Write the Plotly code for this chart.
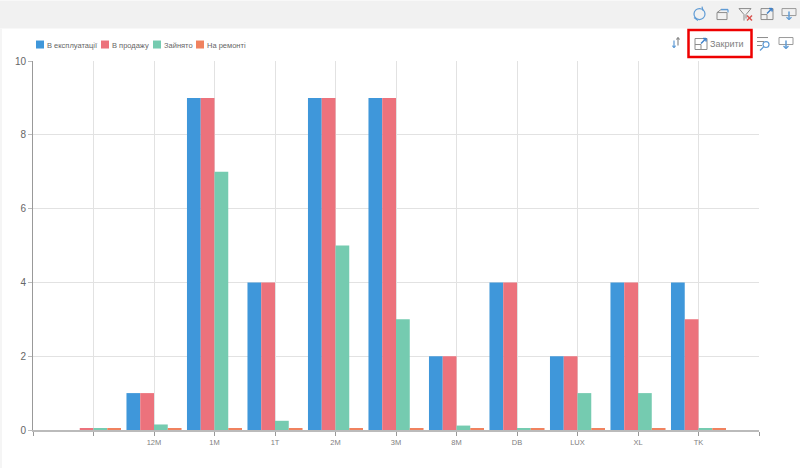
import plotly.graph_objects as go

categories = ["", "12M", "1M", "1T", "2M", "3M", "8M", "DB", "LUX", "XL", "TK"]
in_service = [0, 1, 9, 4, 9, 9, 2, 4, 2, 4, 4]
for_sale = [0.04, 1, 9, 4, 9, 9, 2, 4, 2, 4, 3]
occupied = [0.04, 0.15, 7, 0.25, 5, 3, 0.12, 0.03, 1, 1, 0.03]
in_repair = [0.03, 0.03, 0.03, 0.03, 0.03, 0.03, 0.03, 0.03, 0.03, 0.03, 0.03]
series_names = ["В експлуатації", "В продажу", "Зайнято", "На ремонті"]
series_colors = ["#3f97da", "#ec727c", "#75cbb0", "#f0825f"]
y_ticks = [0, 2, 4, 6, 8, 10]

W, H = 800, 468
L, R, T, B = 33, 759, 60.5, 430
X = lambda p: (p - L) / (R - L)
Y = lambda p: (B - p) / (B - T)

positions = list(range(len(categories)))
fig = go.Figure()
for name, values, color in zip(series_names, [in_service, for_sale, occupied, in_repair], series_colors):
    fig.add_bar(x=positions, y=values, name=name, marker=dict(color=color, line=dict(width=0)))


def rect(x0, y0, x1, y1, fill="rgba(0,0,0,0)", line="rgba(0,0,0,0)", width=1, layer="above"):
    return dict(type="rect", xref="paper", yref="paper", x0=X(x0), x1=X(x1), y0=Y(y0), y1=Y(y1),
                fillcolor=fill, line=dict(color=line, width=width), layer=layer)


def seg(x0, y0, x1, y1, color="#7f9fc0", width=1):
    return dict(type="line", xref="paper", yref="paper", x0=X(x0), x1=X(x1), y0=Y(y0), y1=Y(y1),
                line=dict(color=color, width=width), layer="above")


def icon_monitor(cx, cy):
    return [rect(cx - 7, cy - 5, cx + 7, cy + 2, line="#9a9a9a"),
            seg(cx, cy - 2, cx, cy + 6, "#5f9bd5", 1.5),
            seg(cx - 2.5, cy + 3.5, cx, cy + 6, "#5f9bd5", 1.2),
            seg(cx + 2.5, cy + 3.5, cx, cy + 6, "#5f9bd5", 1.2)]


def icon_window(cx, cy):
    return [rect(cx - 6, cy - 5, cx + 6, cy + 6, line="#8c8c8c"),
            seg(cx - 6, cy + 1, cx, cy + 1, "#8c8c8c"),
            seg(cx, cy + 1, cx, cy + 6, "#8c8c8c"),
            seg(cx, cy, cx + 5, cy - 5, "#3f80c8", 1.5),
            seg(cx + 2, cy - 5, cx + 5, cy - 5, "#3f80c8", 1.5),
            seg(cx + 5, cy - 5, cx + 5, cy - 2, "#3f80c8", 1.5)]


shapes = [
    rect(0, 0, 800, 28, fill="#f1f1f1", layer="below"),
    rect(0, 28, 2, 468, fill="#f5f5f5", layer="below"),
    # top toolbar: refresh
    dict(type="circle", xref="paper", yref="paper", x0=X(694), x1=X(705), y0=Y(8), y1=Y(19),
         line=dict(color="#5f9bd5", width=1.2), layer="above"),
    seg(696, 13.5, 703, 13.5, "#f1f1f1", 3),
    seg(702, 6, 703, 10, "#5f9bd5", 1.2),
    seg(694, 17, 698, 20, "#5f9bd5", 1.2),
    # open folder
    rect(717, 12, 727, 19, line="#8c8c8c"),
    seg(717, 12, 721, 9, "#8c8c8c"),
    seg(721, 9, 728, 9, "#5f9bd5", 1.5),
    seg(728, 9, 728, 12, "#5f9bd5", 1.2),
    # clear filter
    seg(739, 8, 751, 8, "#8c8c8c"),
    seg(739, 8, 744, 14, "#8c8c8c"),
    seg(751, 8, 746, 14, "#8c8c8c"),
    seg(744, 14, 744, 20, "#8c8c8c"),
    seg(746, 14, 746, 18, "#8c8c8c"),
    seg(747, 15, 752, 20, "#d9534f", 1.5),
    seg(752, 15, 747, 20, "#d9534f", 1.5),
    *icon_window(767, 13),
    *icon_monitor(789, 13),
    # second toolbar: sort
    seg(674, 40, 674, 47, "#5f9bd5", 1.2),
    seg(672.5, 45, 674, 47, "#5f9bd5", 1.2),
    seg(675.5, 45, 674, 47, "#5f9bd5", 1.2),
    seg(678, 37, 678, 45, "#8c8c8c", 1.2),
    seg(676.5, 39, 678, 37, "#8c8c8c", 1.2),
    seg(679.5, 39, 678, 37, "#8c8c8c", 1.2),
    # red box round the close button
    rect(688.5, 29.5, 751.5, 56.5, line="#ee0000", width=2.5),
    *icon_window(701, 43),
    # search list
    seg(757, 37, 768, 37, "#8c8c8c"),
    seg(757, 41, 764, 41, "#8c8c8c"),
    seg(757, 45, 762, 45, "#8c8c8c"),
    dict(type="circle", xref="paper", yref="paper", x0=X(763), x1=X(769), y0=Y(41), y1=Y(47),
         line=dict(color="#5f9bd5", width=1.2), layer="above"),
    seg(763.5, 46.5, 760, 50, "#5f9bd5", 1.2),
    *icon_monitor(786, 42),
]

annotations = [
    dict(text="Закрити", xref="paper", yref="paper", x=X(707.5), y=Y(43), xanchor="left", yanchor="middle",
         showarrow=False, font=dict(family="Liberation Sans", size=9, color="#808080")),
]

legend_swatch_x = [36, 101, 153, 196]
for sx, name, color in zip(legend_swatch_x, series_names, series_colors):
    shapes.append(rect(sx, 40, sx + 8, 48, fill=color))
    annotations.append(dict(text=name, xref="paper", yref="paper", x=X(sx + 9), y=Y(44.5),
                            xanchor="left", yanchor="middle", showarrow=False,
                            font=dict(family="Liberation Sans", size=7.5, color="#666666")))

fig.update_layout(
    width=W, height=H, autosize=False,
    margin=dict(l=L, r=W - R, t=T, b=H - B),
    paper_bgcolor="#ffffff", plot_bgcolor="#ffffff",
    barmode="group", bargap=0.09, bargroupgap=0,
    showlegend=False,
    font=dict(family="Liberation Sans"),
    shapes=shapes, annotations=annotations,
    xaxis=dict(
        range=[-1, len(categories)],
        tickmode="array",
        tickvals=[-1] + positions + [len(categories)],
        ticktext=[""] + categories + [""],
        ticks="outside", ticklen=4, tickcolor="#999999", tickwidth=1,
        tickfont=dict(size=7.5, color="#808080"),
        showgrid=True, gridcolor="#e2e2e2", gridwidth=1,
        showline=True, linecolor="#bbbbbb", linewidth=2,
        zeroline=False,
    ),
    yaxis=dict(
        range=[0, 10],
        tickmode="array", tickvals=y_ticks,
        ticks="outside", ticklen=4, tickcolor="#bbbbbb", tickwidth=1,
        tickfont=dict(size=10, color="#666666"),
        showgrid=True, gridcolor="#e2e2e2", gridwidth=1,
        showline=True, linecolor="#999999", linewidth=1,
        zeroline=False,
    ),
)

fig.write_html(
    "out.html",
    config=dict(displayModeBar=False),
    post_script="document.body.style.margin='0';document.documentElement.style.overflow='hidden';",
)
